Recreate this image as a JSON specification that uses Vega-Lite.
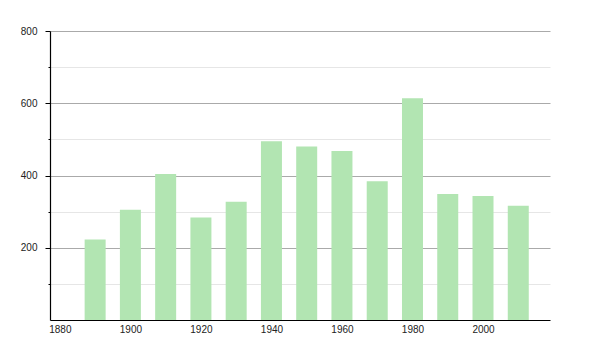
{
  "$schema": "https://vega.github.io/schema/vega-lite/v6.json",
  "width": 500,
  "height": 289,
  "autosize": {"type": "none"},
  "padding": {"left": 50, "top": 31, "right": 50, "bottom": 30},
  "background": "white",
  "config": {
    "view": {"stroke": null},
    "axis": {"labelFont": "Liberation Sans", "labelFontSize": 10, "labelColor": "#222222"}
  },
  "data": {
    "values": [
      {"year": 1890, "pop": 223},
      {"year": 1900, "pop": 305},
      {"year": 1910, "pop": 404},
      {"year": 1920, "pop": 284},
      {"year": 1930, "pop": 327},
      {"year": 1940, "pop": 495},
      {"year": 1950, "pop": 480},
      {"year": 1960, "pop": 468},
      {"year": 1970, "pop": 384},
      {"year": 1980, "pop": 614},
      {"year": 1990, "pop": 349},
      {"year": 2000, "pop": 343},
      {"year": 2010, "pop": 316}
    ]
  },
  "mark": {"type": "bar", "size": 21, "color": "#b2e5b2"},
  "encoding": {
    "x": {
      "field": "year",
      "type": "quantitative",
      "scale": {"domain": [1877.2, 2019], "nice": false, "zero": false, "padding": 0},
      "axis": {
        "title": null,
        "values": [1880, 1900, 1920, 1940, 1960, 1980, 2000],
        "format": "d",
        "grid": false,
        "ticks": false,
        "labelPadding": 4,
        "domainColor": "#000000",
        "domainWidth": 1.2
      }
    },
    "y": {
      "field": "pop",
      "type": "quantitative",
      "scale": {"domain": [0, 800], "nice": false},
      "axis": {
        "title": null,
        "values": [100, 200, 300, 400, 500, 600, 700, 800],
        "labelExpr": "datum.value % 200 === 0 ? datum.label : ''",
        "gridColor": {"condition": {"test": "datum.value % 200 === 0", "value": "#aaaaaa"}, "value": "#e6e6e6"},
        "tickSize": {"condition": {"test": "datum.value % 200 === 0", "value": 5}, "value": 2},
        "tickColor": "#000000",
        "domainColor": "#000000",
        "domainWidth": 1.2,
        "labelPadding": 8
      }
    }
  }
}
